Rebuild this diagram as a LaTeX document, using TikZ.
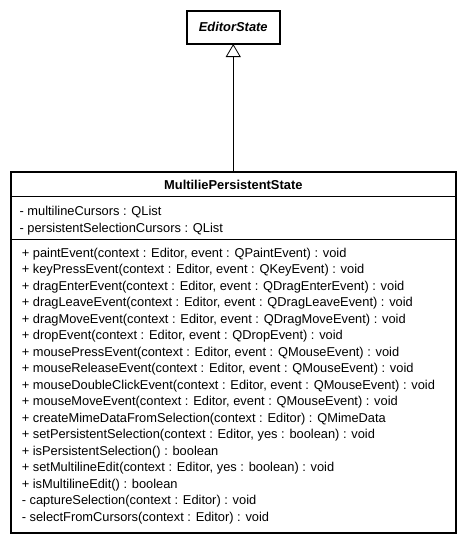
\documentclass[tikz,border=0pt]{standalone}
\usepackage{fontspec}
\setmainfont{Liberation Sans}
\usetikzlibrary{arrows.meta}
\begin{document}
\begin{tikzpicture}[x=1pt,y=-1pt,
  txt/.style={anchor=base west,inner sep=0pt,font=\fontsize{12.85}{13}\selectfont},
  ttl/.style={anchor=base,inner sep=0pt,font=\fontsize{12.9}{13}\selectfont\bfseries},
  classbox/.style={draw,line width=2pt,inner sep=0pt,outer sep=0pt},
  inherit/.style={-{Triangle[open,length=13pt,width=15pt]},line width=0.8pt}]
\useasboundingbox (0,0) rectangle (466,544);
\fill[white] (0,0) rectangle (466,544);
% EditorState
\node[classbox,minimum width=92.5pt,minimum height=33.5pt,
      font=\fontsize{12.9}{13}\selectfont\bfseries\itshape] (es) at (233.25,27.25) {EditorState};
% Main class
\node[classbox,minimum width=444.5pt,minimum height=361pt] (cls) at (233.25,352) {};
\draw[line width=0.8pt] (cls.west |- 0,196.5) -- (cls.east |- 0,196.5);
\draw[line width=0.8pt] (cls.west |- 0,239.5) -- (cls.east |- 0,239.5);
\node[ttl] (title) at (233.3,189.8) {MultiliePersistentState};
\draw[inherit] (cls.north) -- (es.south);
% attributes
\node[txt] (a1) at (19.4,215.6) {- multilineCursors : QList};
\node[txt] (a2) at (19.4,232.2) {- persistentSelectionCursors : QList};
% methods
\foreach \t [count=\i from 0] in {
  {+ paintEvent(context : Editor, event : QPaintEvent) : void},
  {+ keyPressEvent(context : Editor, event : QKeyEvent) : void},
  {+ dragEnterEvent(context : Editor, event : QDragEnterEvent) : void},
  {+ dragLeaveEvent(context : Editor, event : QDragLeaveEvent) : void},
  {+ dragMoveEvent(context : Editor, event : QDragMoveEvent) : void},
  {+ dropEvent(context : Editor, event : QDropEvent) : void},
  {+ mousePressEvent(context : Editor, event : QMouseEvent) : void},
  {+ mouseReleaseEvent(context : Editor, event : QMouseEvent) : void},
  {+ mouseDoubleClickEvent(context : Editor, event : QMouseEvent) : void},
  {+ mouseMoveEvent(context : Editor, event : QMouseEvent) : void},
  {+ createMimeDataFromSelection(context : Editor) : QMimeData},
  {+ setPersistentSelection(context : Editor, yes : boolean) : void},
  {+ isPersistentSelection() : boolean},
  {+ setMultilineEdit(context : Editor, yes : boolean) : void},
  {+ isMultilineEdit() : boolean},
  {- captureSelection(context : Editor) : void},
  {- selectFromCursors(context : Editor) : void}}
  \node[txt] (m\i) at (21.6,257.4+16.49*\i) {\t};
\end{tikzpicture}
\end{document}
